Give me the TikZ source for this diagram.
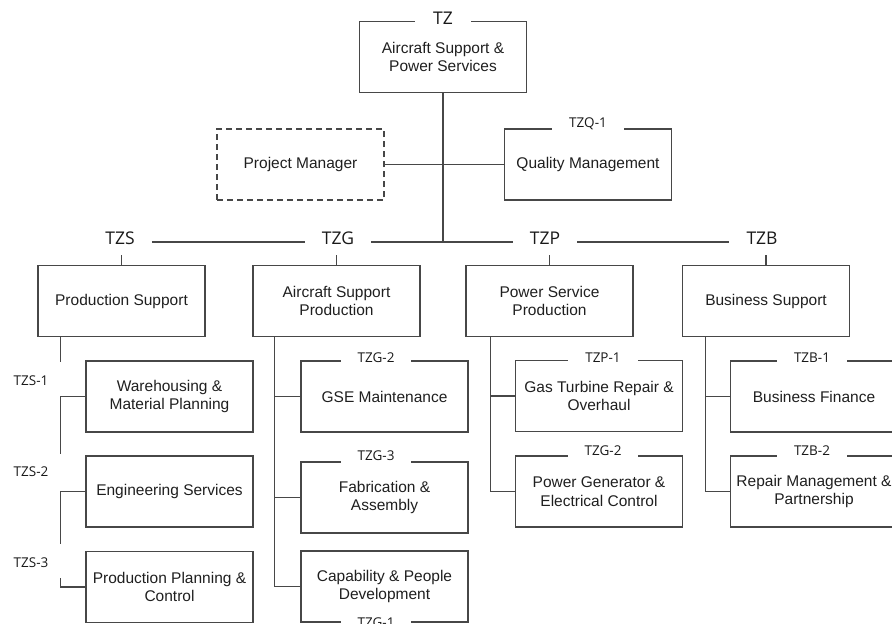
\documentclass[tikz,border=0pt]{standalone}
\usepackage{fontspec}
\setmainfont{Liberation Sans}
\newfontfamily\lblfont{Open Sans}
\begin{document}
\begin{tikzpicture}[x=1pt,y=-1pt,
  conn/.style={draw=black!72, line width=1.2pt},
  box/.style={draw=black!72, line width=1.2pt, minimum width=167pt, minimum height=71pt,
    align=center, font=\fontsize{15.5}{18.5}\selectfont, text=black!88, inner sep=2pt},
  pmbox/.style={box, dash pattern=on 6pt off 4pt},
  rowlbl/.style={font=\lblfont\fontsize{17.5}{20}\selectfont, text=black!90, text height=12.5pt,
    text depth=8.5pt, inner ysep=2.5pt, inner xsep=17pt},
  toplbl/.style={font=\lblfont\fontsize{17.5}{20}\selectfont, text=black!90, fill=white,
    inner xsep=18pt, inner ysep=0pt, text height=12pt, text depth=3pt, anchor=base},
  boxlbl/.style={font=\lblfont\fontsize{13.5}{16}\selectfont, text=black!90, fill=white,
    inner xsep=17pt, inner ysep=0pt, text height=10pt, text depth=5pt, anchor=base},
  sidelbl/.style={font=\lblfont\fontsize{13.5}{16}\selectfont, text=black!90, anchor=base, inner sep=0pt}
]
\useasboundingbox (0,0) rectangle (892,624);

% top
\node[box] (tz) at (443,57) {Aircraft Support \&\\Power Services};
\node[toplbl] (tzl) at (443,24) {TZ};
\node[pmbox] (pm) at (300.5,164.5) {Project Manager};
\node[box] (qm) at (588,164.5) {Quality Management};
\node[boxlbl] (qml) at (588,127) {TZQ-1};

% row labels
\node[rowlbl] (tzsl) at (120,242) {TZS};
\node[rowlbl] (tzgl) at (338,242) {TZG};
\node[rowlbl] (tzpl) at (545,242) {TZP};
\node[rowlbl] (tzbl) at (762,242) {TZB};

% row boxes
\node[box] (ps) at (121.5,301) {Production Support};
\node[box] (asp) at (336.5,301) {Aircraft Support\\Production};
\node[box] (psp) at (549.5,301) {Power Service\\Production};
\node[box] (bs) at (766,301) {Business Support};

% column 1
\node[box] (wh) at (169.5,396.5) {Warehousing \&\\Material Planning};
\node[box] (es) at (169.5,491.5) {Engineering Services};
\node[box] (ppc) at (169.5,587) {Production Planning \&\\Control};
\node[sidelbl] (s1) at (31,385) {TZS-1};
\node[sidelbl] (s2) at (31,476) {TZS-2};
\node[sidelbl] (s3) at (31,567) {TZS-3};

% column 2
\node[box] (gse) at (384.5,396.5) {GSE Maintenance};
\node[box] (fab) at (384.5,497.5) {Fabrication \&\\Assembly};
\node[box] (cap) at (384.5,586.5) {Capability \& People\\Development};
\node[boxlbl] (gsel) at (376,362) {TZG-2};
\node[boxlbl] (fabl) at (376,460) {TZG-3};
\node[boxlbl] (capl) at (376,627) {TZG-1};

% column 3
\node[box] (gt) at (599,396) {Gas Turbine Repair \&\\Overhaul};
\node[box] (pg) at (599,491.5) {Power Generator \&\\Electrical Control};
\node[boxlbl] (gtl) at (603,362) {TZP-1};
\node[boxlbl] (pgl) at (603,455) {TZG-2};

% column 4
\node[box] (bf) at (814,396.5) {Business Finance};
\node[box] (rm) at (814,491.5) {Repair Management \&\\Partnership};
\node[boxlbl] (bfl) at (812,362) {TZB-1};
\node[boxlbl] (rml) at (812,455) {TZB-2};

% connectors top
\draw[conn] (tz.south) -- (tz.south |- tzgl.east);
\draw[conn] (pm.east) -- (qm.west);
\draw[conn] (tzsl.east) -- (tzgl.west) (tzgl.east) -- (tzpl.west) (tzpl.east) -- (tzbl.west);
\draw[conn] (ps.north) -- (ps.north |- tzsl.south);
\draw[conn] (asp.north) -- (asp.north |- tzgl.south);
\draw[conn] (psp.north) -- (psp.north |- tzpl.south);
\draw[conn] (bs.north) -- (bs.north |- tzbl.south);

% column 1 spine (broken)
\draw[conn] ([xshift=23pt]ps.south west) -- ++(0,25);
\draw[conn] (wh.west) -| ++(-25,57);
\draw[conn] (es.west) -| ++(-25,52);
\draw[conn] (ppc.west) -| ++(-25,-9);

% column 2
\draw[conn] ([xshift=22pt]asp.south west) |- (cap.west);
\draw[conn] (gse.west) -- ++(-26,0);
\draw[conn] (fab.west) -- ++(-26,0);

% column 3
\draw[conn] ([xshift=25pt]psp.south west) |- (pg.west);
\draw[conn] (gt.west) -- ++(-24.5,0);

% column 4
\draw[conn] ([xshift=23.5pt]bs.south west) |- (rm.west);
\draw[conn] (bf.west) -- ++(-24.5,0);
\end{tikzpicture}
\end{document}
